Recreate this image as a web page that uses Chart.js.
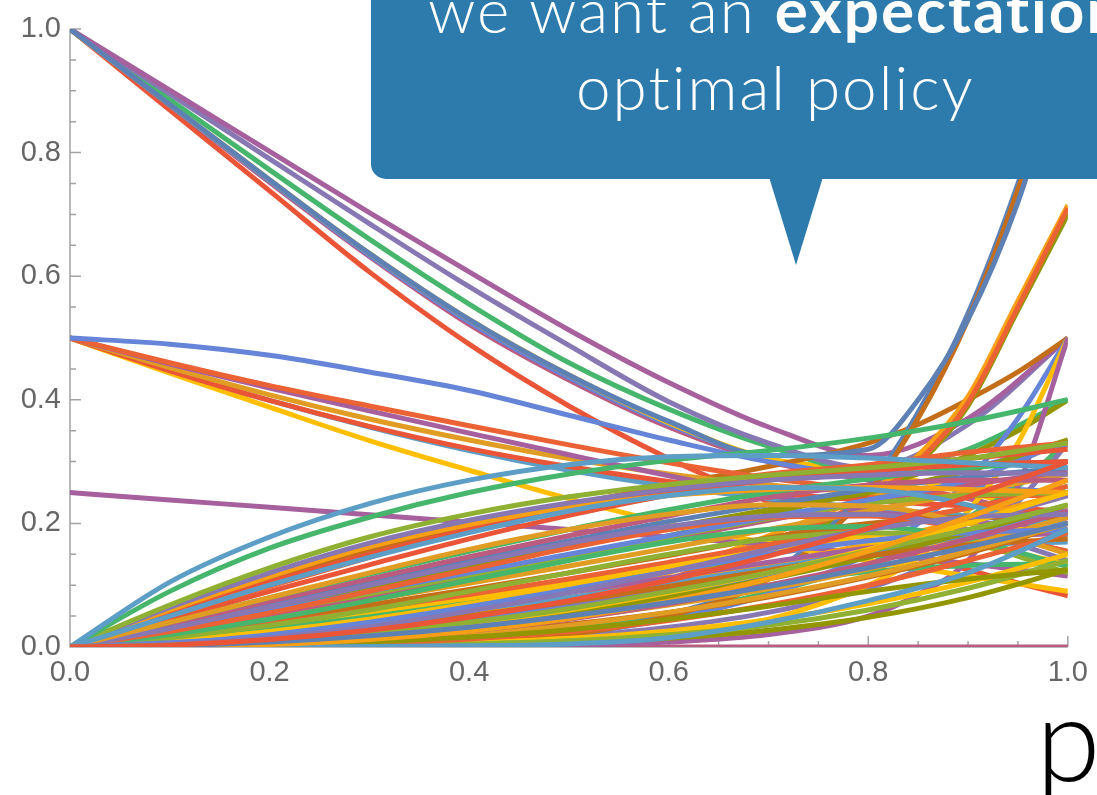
<!DOCTYPE html>
<html>
<head>
<meta charset="utf-8">
<script src="https://cdn.jsdelivr.net/npm/chart.js@4.4.1/dist/chart.umd.min.js"></script>
<style>
  html, body { margin: 0; padding: 0; background: #fff; overflow: hidden; }
  #wrap { position: relative; width: 1097px; height: 795px; overflow: hidden; }
  #plot { position: absolute; left: 0; top: 0; }
  .bubble { position: absolute; left: 371px; top: -60px; width: 800px; height: 239px;
            background: #2d7bad; border-radius: 15px; }
  .tail { position: absolute; left: 769px; top: 177px; width: 54px; height: 88px;
          background: #2d7bad; clip-path: polygon(0 0, 100% 0, 50% 100%); }
  .say { position: absolute; color: #fff; font-family: Lato, "Open Sans", sans-serif;
         font-weight: 300; font-size: 62px; letter-spacing: 2px; line-height: 1; white-space: nowrap; }
  .say b { font-weight: 700; }
  .varname { position: absolute; left: 1036px; top: 678px; color: #000;
             font-family: Lato, "Open Sans", sans-serif; font-weight: 300;
             font-size: 117px; line-height: 1; }
</style>
</head>
<body>
<div id="wrap">
  <canvas id="plot" width="1097" height="795"></canvas>
  <div class="bubble"></div>
  <div class="tail"></div>
  <div class="say" style="left:428px; top:-22px;">we want an <b>expectation</b></div>
  <div class="say" style="left:576px; top:55px;">optimal policy</div>
  <div class="varname">p</div>
</div>
<script>
// p values at which the curves are sampled
const pGrid = [0, 0.1, 0.2, 0.3, 0.4, 0.5, 0.6, 0.7, 0.8, 0.9, 1.0];
// denser sampling near p = 1 for the curves that shoot up there
const pFine = [0, 0.1, 0.2, 0.3, 0.4, 0.5, 0.6, 0.7, 0.8, 0.85, 0.9, 0.95, 1.0];
const xTicks = [0, 0.2, 0.4, 0.6, 0.8, 1.0];
const yTicks = [0, 0.2, 0.4, 0.6, 0.8, 1.0];

// default plot palette
const palette = ['#5E81B5', '#E19C24', '#8FB032', '#EB6235', '#8778B3', '#C56E1A', '#5D9EC7',
                 '#FFBF00', '#A5609D', '#929600', '#E95536', '#6685D9', '#F89F13', '#BC5B80', '#47B66D'];

// curves starting at value 1
const fromOne = [
  [1, .901, .802, .703, .607, .513, .428, .356, .31, .37, .50],
  [1, .895, .79, .685, .583, .488, .397, .33, .29, .36, .50],
  [1, .886, .772, .66, .555, .46, .385, .325, .285, .32, .40],
  [1, .878, .756, .637, .53, .44, .363, .305, .285, .25, .21],
  [1, .877, .754, .634, .526, .436, .36, .303, .275, .26, .25],
  [1, .876, .752, .632, .522, .432, .356, .30, .27, .24, .20],
  [1, .869, .738, .607, .49, .39, .305, .235, .175, .125, .083]
];
const fromOneColors = [8, 4, 14, 7, 11, 13, 10];

// curves starting at value 0.5
const fromHalf = [
  [.5, .49, .472, .445, .415, .375, .335, .30, .28, .29, .33],
  [.5, .46, .423, .39, .358, .327, .298, .273, .255, .245, .245],
  [.5, .458, .419, .382, .346, .311, .277, .246, .22, .203, .19],
  [.5, .452, .408, .369, .335, .305, .28, .262, .25, .245, .245],
  [.5, .447, .399, .357, .321, .292, .268, .25, .237, .228, .22],
  [.5, .443, .388, .334, .286, .24, .2, .168, .14, .115, .09],
  [.5, .447, .399, .356, .318, .286, .26, .24, .225, .212, .20]
];
const fromHalfColors = [11, 3, 8, 1, 10, 7, 6];

// curve starting at value 0.25
const fromQuarter = [
  [.25, .238, .226, .214, .202, .19, .178, .166, .152, .135, .115]
];
const fromQuarterColors = [8];

// curves starting at 0 that rise quickly and level off
const risingFast = [
  [0, .105, .178, .232, .27, .295, .308, .31, .306, .298, .29],
  [0, .09, .16, .21, .25, .28, .302, .318, .338, .365, .40],
  [0, .068, .128, .178, .215, .243, .263, .278, .29, .305, .33],
  [0, .064, .12, .168, .205, .233, .255, .27, .278, .282, .28],
  [0, .06, .114, .162, .198, .226, .245, .255, .258, .255, .25],
  [0, .055, .105, .15, .19, .222, .25, .272, .29, .305, .32],
  [0, .05, .098, .145, .19, .228, .258, .28, .295, .315, .33],
  [0, .045, .09, .133, .175, .213, .246, .27, .285, .295, .30],
  [0, .04, .08, .118, .155, .19, .222, .25, .272, .29, .30],
  [0, .037, .074, .11, .146, .18, .212, .242, .262, .27, .27],
  [0, .035, .07, .105, .14, .172, .203, .23, .255, .275, .29],
  [0, .033, .066, .098, .13, .162, .193, .222, .25, .285, .335],
  [0, .03, .06, .09, .12, .15, .18, .21, .238, .27, .335],
  [0, .028, .057, .086, .116, .147, .178, .208, .232, .245, .25],
  [0, .026, .053, .082, .112, .143, .175, .205, .235, .262, .285],
  [0, .025, .05, .076, .103, .131, .16, .19, .22, .25, .28],
  [0, .022, .045, .068, .093, .12, .148, .177, .2, .21, .21],
  [0, .02, .04, .062, .085, .11, .137, .165, .195, .225, .26],
  [0, .018, .037, .057, .079, .103, .13, .158, .18, .19, .19],
  [0, .015, .032, .052, .075, .1, .128, .158, .19, .225, .26],
  [0, .015, .031, .048, .067, .088, .112, .137, .16, .175, .185],
  [0, .012, .026, .042, .06, .08, .103, .128, .15, .165, .17],
  [0, .012, .025, .04, .058, .079, .104, .133, .167, .207, .25],
  [0, .01, .02, .032, .047, .066, .09, .118, .15, .185, .22],
  [0, .009, .02, .034, .051, .072, .097, .126, .16, .2, .245],
  [0, .008, .017, .028, .041, .057, .077, .1, .122, .132, .135]
];
const risingFastColors = [6, 14, 2, 4, 12, 10, 3, 10, 14, 13, 0, 9, 11, 2, 13, 1, 5, 3, 7, 14, 8, 6, 12, 4, 4, 14];

// curves starting at 0 that rise, peak and fall back before p = 1
const humped = [
  [0, .05, .1, .145, .185, .22, .245, .258, .255, .23, .18],
  [0, .04, .08, .12, .158, .19, .215, .23, .228, .2, .15],
  [0, .03, .065, .1, .135, .168, .195, .212, .215, .19, .14],
  [0, .025, .055, .09, .125, .16, .19, .21, .212, .19, .155],
  [0, .02, .045, .075, .108, .14, .17, .19, .195, .175, .13],
  [0, .015, .035, .06, .09, .12, .15, .175, .185, .17, .12],
  [0, .01, .025, .045, .07, .1, .13, .155, .17, .165, .135]
];
const humpedColors = [6, 1, 4, 3, 14, 2, 7];

// curves starting at 0 that bend upward
const risingSlow = [
  [0, .003, .012, .027, .048, .075, .108, .147, .192, .243, .30],
  [0, .002, .008, .018, .032, .05, .072, .098, .128, .162, .20],
  [0, .001, .004, .012, .026, .046, .074, .11, .155, .21, .27],
  [0, 0, 0, .001, .002, .005, .015, .04, .075, .12, .19],
  [0, .003, .01, .022, .04, .062, .09, .12, .155, .19, .23],
  [0, .004, .015, .033, .058, .088, .122, .158, .19, .21, .215],
  [0, .002, .009, .021, .038, .06, .088, .12, .158, .2, .25],
  [0, .001, .005, .013, .026, .045, .07, .1, .135, .175, .22],
  [0, .001, .003, .008, .016, .028, .045, .066, .09, .11, .125],
  [0, 0, .002, .006, .013, .025, .043, .068, .1, .14, .185],
  [0, .001, .004, .01, .02, .035, .056, .083, .115, .155, .2],
  [0, .006, .02, .04, .065, .093, .122, .15, .172, .185, .19],
  [0, .004, .014, .03, .05, .073, .098, .124, .148, .165, .175],
  [0, .005, .012, .022, .036, .055, .08, .11, .145, .185, .23],
  [0, .007, .016, .028, .044, .063, .087, .115, .147, .183, .22],
  [0, .004, .01, .019, .031, .047, .068, .094, .126, .165, .21],
  [0, .002, .006, .013, .023, .037, .056, .081, .113, .152, .2],
  [0, 0, .001, .002, .005, .01, .02, .035, .06, .095, .14],
  [0, 0, 0, .001, .003, .007, .014, .027, .048, .08, .125],
  [0, 0, .001, .003, .007, .014, .026, .044, .07, .105, .15]
];
const risingSlowColors = [10, 0, 12, 6, 2, 4, 7, 13, 9, 3, 1, 11, 5, 9, 11, 1, 5, 2, 9, 7];

// curves that climb steeply near p = 1 (sampled on pFine)
const steep = [
  [1, .878, .756, .637, .53, .44, .365, .31, .32, .40, .53, .72, .98],
  [0, 0, .001, .003, .008, .02, .05, .11, .25, .37, .53, .74, 1.0],
  [0, 0, .001, .004, .01, .022, .052, .115, .26, .38, .54, .75, 1.0],
  [0, .002, .008, .02, .04, .07, .11, .17, .24, .30, .395, .55, .71],
  [0, .003, .01, .024, .046, .078, .12, .18, .25, .31, .405, .56, .715],
  [0, .001, .006, .016, .034, .062, .10, .16, .235, .295, .39, .545, .70],
  [0, .002, .007, .018, .037, .066, .105, .165, .24, .30, .40, .55, .705],
  [0, 0, 0, 0, .001, .003, .008, .02, .05, .085, .14, .26, .50],
  [0, 0, 0, .001, .003, .008, .02, .045, .1, .145, .22, .33, .50],
  [0, 0, .001, .004, .01, .022, .045, .085, .15, .2, .27, .37, .50],
  [0, .06, .11, .155, .195, .23, .262, .292, .33, .36, .40, .445, .50],
  [0, .02, .045, .075, .108, .143, .18, .215, .255, .28, .31, .35, .40],
  [0, 0, .001, .003, .008, .017, .032, .056, .095, .125, .17, .235, .33],
  [0, .001, .003, .008, .018, .033, .055, .088, .135, .165, .21, .26, .335]
];
const steepColors = [0, 5, 0, 3, 12, 9, 2, 8, 7, 11, 5, 9, 4, 14];

// curve that is identically zero
const flatZero = [
  [0, 0, 0, 0, 0, 0, 0, 0, 0, 0, 0]
];
const flatZeroColors = [13];

const groups = [
  [risingSlow, risingSlowColors, pGrid],
  [humped, humpedColors, pGrid],
  [risingFast, risingFastColors, pGrid],
  [fromQuarter, fromQuarterColors, pGrid],
  [fromHalf, fromHalfColors, pGrid],
  [steep, steepColors, pFine],
  [fromOne, fromOneColors, pGrid],
  [flatZero, flatZeroColors, pGrid]
];

const datasets = [];
groups.forEach(([curves, colors, grid]) => {
  curves.forEach((vals, i) => {
    datasets.push({
      data: grid.map((p, k) => ({ x: p, y: vals[k] })),
      borderColor: palette[colors[i]],
      borderWidth: 5,
      pointRadius: 0,
      fill: false,
      cubicInterpolationMode: 'monotone'
    });
  });
});

// axis lines with inward major/minor tick marks
const frame = {
  id: 'frame',
  beforeDatasetsDraw(chart) {
    const { ctx, chartArea: a, scales: { x, y } } = chart;
    ctx.save();
    ctx.strokeStyle = '#a3a3a3';
    ctx.lineWidth = 1.5;
    ctx.beginPath();
    ctx.moveTo(a.left, a.top);
    ctx.lineTo(a.left, a.bottom);
    ctx.lineTo(a.right, a.bottom);
    for (let i = 0; i <= 20; i++) {
      const len = i % 4 === 0 ? 11 : 6;
      const px = x.getPixelForValue(i / 20);
      ctx.moveTo(px, a.bottom);
      ctx.lineTo(px, a.bottom - len);
      const py = y.getPixelForValue(i / 20);
      ctx.moveTo(a.left, py);
      ctx.lineTo(a.left + len, py);
    }
    ctx.stroke();
    ctx.restore();
  }
};

const tickFont = { family: '"Liberation Sans", Arial, sans-serif', size: 29 };

new Chart(document.getElementById('plot'), {
  type: 'line',
  data: { datasets },
  options: {
    responsive: false,
    animation: false,
    events: [],
    layout: { autoPadding: false, padding: { top: 29, right: 25, left: 0, bottom: 0 } },
    plugins: { legend: { display: false }, tooltip: { enabled: false } },
    scales: {
      x: {
        type: 'linear', min: 0, max: 1,
        afterBuildTicks: s => { s.ticks = xTicks.map(v => ({ value: v })); },
        afterFit: s => { s.height = 148; },
        grid: { display: false, drawTicks: false, tickLength: 0 },
        border: { display: false },
        ticks: { font: tickFont, color: '#666', padding: 9, maxRotation: 0,
                 callback: v => Number(v).toFixed(1) }
      },
      y: {
        type: 'linear', min: 0, max: 1,
        afterBuildTicks: s => { s.ticks = yTicks.map(v => ({ value: v })); },
        afterFit: s => { s.width = 70; },
        grid: { display: false, drawTicks: false, tickLength: 0 },
        border: { display: false },
        ticks: { font: tickFont, color: '#666', padding: 9,
                 callback: v => Number(v).toFixed(1) }
      }
    }
  },
  plugins: [frame]
});
</script>
</body>
</html>
